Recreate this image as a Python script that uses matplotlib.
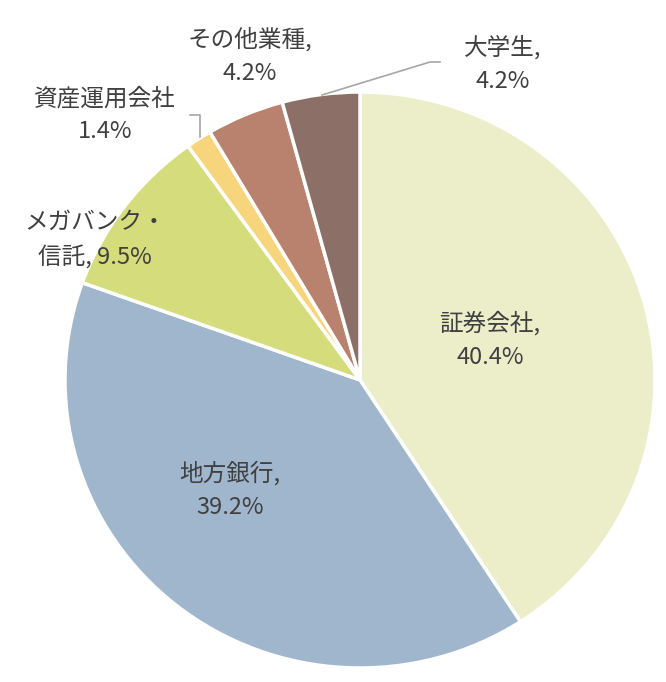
import matplotlib
matplotlib.use('Agg')
import matplotlib.pyplot as plt

plt.rcParams['font.family'] = ['Noto Sans CJK JP', 'DejaVu Sans']

# data (clockwise from 12 o'clock)
categories = ['証券会社', '地方銀行', 'メガバンク・\n信託', '資産運用会社', 'その他業種', '大学生']
shares = [40.4, 39.2, 9.5, 1.4, 4.2, 4.2]
colors = ['#EBEEC9', '#A0B6CD', '#D4DC7C', '#F7D57C', '#B8826E', '#8C7067']

# pie centre (360, 380) px, radii 295 x 288 px
W, H = 666, 682
cx, cy, rx, ry = 360, 380, 295, 288

fig = plt.figure(figsize=(W / 100, H / 100), dpi=100)
ax = fig.add_axes([(cx - rx) / W, (H - cy - ry) / H, 2 * rx / W, 2 * ry / H])

ax.pie(shares, colors=colors, startangle=90, counterclock=False,
       radius=1.0, wedgeprops=dict(edgecolor='white', linewidth=2.5))
ax.set_xlim(-1, 1)
ax.set_ylim(-1, 1)
ax.set_aspect('auto')
ax.axis('off')


def px(x, y):
    return (x - cx) / rx, (cy - y) / ry


txt = dict(fontsize=17, color='#404040', ha='center', va='center', linespacing=1.55)

ax.text(*px(490, 340), f'{categories[0]},\n{shares[0]}%', **txt)
ax.text(*px(230, 490), f'{categories[1]},\n{shares[1]}%', **txt)
ax.text(*px(95, 240), f'メガバンク・\n信託, {shares[2]}%', **txt)
ax.text(*px(105, 115), f'{categories[3]}\n{shares[3]}%', **txt)
ax.text(*px(250, 56), f'{categories[4]},\n{shares[4]}%', **txt)
ax.text(*px(503, 64), f'{categories[5]},\n{shares[5]}%', **txt)

# leader lines
lx, ly = zip(*[px(322, 95), px(430, 62), px(440, 62)])
ax.plot(lx, ly, color='#A6A6A6', lw=1.2, clip_on=False)
lx, ly = zip(*[px(200, 137), px(200, 115), px(190, 115)])
ax.plot(lx, ly, color='#A6A6A6', lw=1.2, clip_on=False)

fig.savefig('out.png', dpi=100)
